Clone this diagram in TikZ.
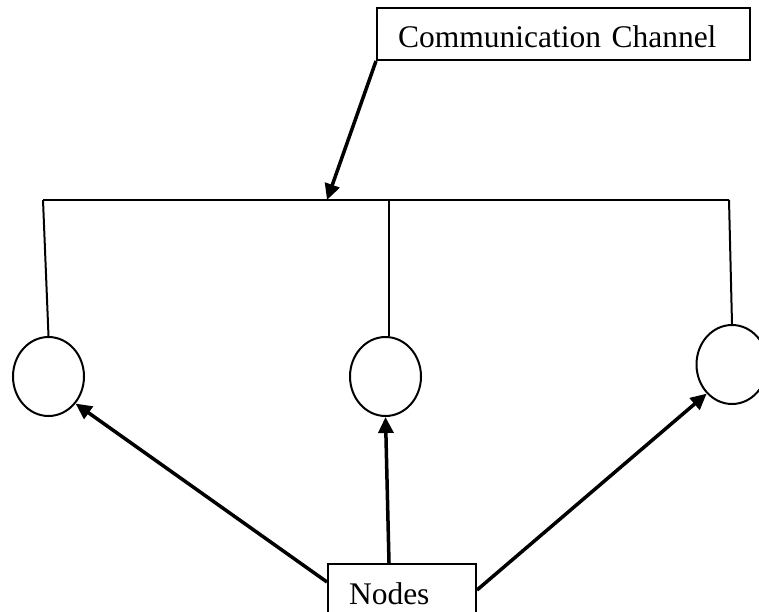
\documentclass[tikz,border=0pt]{standalone}
\usepackage{fontspec}
\setmainfont{Liberation Serif}
\usetikzlibrary{shapes.geometric,arrows.meta}
\tikzset{
  station/.style={draw, ellipse, line width=2pt, minimum width=71pt, minimum height=79pt, inner sep=0pt},
  labelbox/.style={draw, line width=2pt, rectangle, minimum height=52pt, inner xsep=21pt, inner ysep=0pt,
    text height=28pt, text depth=0pt, align=left, font=\fontsize{31.5}{36}\selectfont},
  wire/.style={line width=2pt},
  pointer/.style={line width=3.5pt, -{Triangle[length=16pt,width=15pt]}}
}
\begin{document}
\begin{tikzpicture}[x=1pt,y=-1pt]
  \useasboundingbox (0,0) rectangle (759,612);
  \clip (0,0) rectangle (759,612);

  % labels
  \node[labelbox, anchor=north west, text width=331pt] (chan) at (376,7) {Communication Channel};
  \node[labelbox, anchor=north west, text width=106pt] (nodes) at (327,563) {Nodes};

  % stations hanging from the bus
  \node[station] (c1) at (48.5,376.5) {};
  \node[station] (c2) at (385.5,376.5) {};
  \node[station] (c3) at (732,364.5) {};

  % the shared bus
  \coordinate (b1) at (43,200);
  \coordinate (b2) at (389,200);
  \coordinate (b3) at (729,200);
  \coordinate (hit) at (327,200);
  \draw[wire] (b1) -- (b3);
  \draw[wire] (b1) -- (c1.north);
  \draw[wire] (b2) -- (c2.north -| b2);
  \draw[wire] (b3) -- (c3.north);

  % pointers
  \draw[pointer] (chan.south west) -- (hit);
  \draw[pointer] ([yshift=8pt]nodes.west) -- (c1.-45);
  \draw[pointer] ([xshift=-13pt]nodes.north) -- (c2.south);
  \draw[pointer] (nodes.east) -- (c3.229);
\end{tikzpicture}
\end{document}
